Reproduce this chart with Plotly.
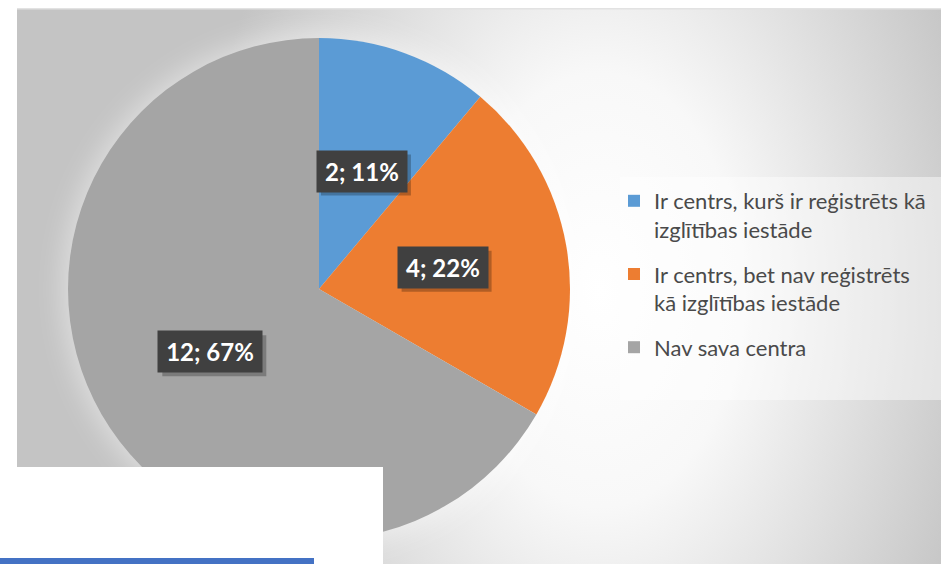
import base64
import math

import plotly.graph_objects as go

W, H = 941, 564

labels = [
    'Ir centrs, kurš ir reģistrēts kā<br>izglītības iestāde',
    'Ir centrs, bet nav reģistrēts<br>kā izglītības iestāde',
    'Nav sava centra',
]
values = [2, 4, 12]
colors = ['#5B9BD5', '#ED7D31', '#A5A5A5']


def px_x(p):
    return p / W


def px_y(p):
    return 1 - p / H


def gradient_source():
    # radial grey/white chart-area fill plus a soft glow behind the pie
    svg = (
        '<svg xmlns="http://www.w3.org/2000/svg" width="924" height="556" '
        'viewBox="0 0 924 556" preserveAspectRatio="none">'
        '<defs><radialGradient id="g" gradientUnits="userSpaceOnUse" cx="583" cy="282" r="400" '
        'gradientTransform="translate(583 282) scale(1 1.55) translate(-583 -282)">'
        '<stop offset="0" stop-color="#ffffff"/>'
        '<stop offset="0.35" stop-color="#f8f8f8"/>'
        '<stop offset="1" stop-color="#c4c4c4"/>'
        '</radialGradient>'
        '<filter id="b" x="-20%" y="-20%" width="140%" height="140%">'
        '<feGaussianBlur stdDeviation="12"/></filter></defs>'
        '<rect width="924" height="556" fill="url(#g)"/>'
        '<rect width="924" height="1.5" fill="#e2e2e2"/>'
        '<circle cx="302" cy="281" r="258" fill="#ffffff" fill-opacity="0.4" filter="url(#b)"/>'
        '</svg>'
    )
    return 'data:image/svg+xml;base64,' + base64.b64encode(svg.encode()).decode()


def create_pie_chart():
    dom_x = [px_x(68), px_x(570)]
    dom_y = [px_y(540), px_y(38)]

    fig = go.Figure()
    fig.add_trace(go.Pie(
        labels=labels, values=values,
        marker=dict(colors=colors, line=dict(width=0)),
        sort=False, direction='clockwise', rotation=0,
        textinfo='none', hoverinfo='label+value+percent',
        domain=dict(x=dom_x, y=dom_y),
        showlegend=False,
    ))

    # legend entries, one group each so the gap between them can be set
    for i, name in enumerate(labels):
        fig.add_trace(go.Scatter(
            x=[None], y=[None], mode='markers', name=name,
            marker=dict(symbol='square', size=12, color=colors[i]),
            legendgroup=str(i), hoverinfo='skip',
        ))

    # data labels at half radius along each slice's mid angle
    cx = (dom_x[0] + dom_x[1]) / 2
    cy = (dom_y[0] + dom_y[1]) / 2
    radius_px = (dom_x[1] - dom_x[0]) * W / 2
    total = sum(values)
    start = 0
    for v in values:
        mid = (start + v / 2) / total * 2 * math.pi
        start += v
        x = cx + 0.5 * radius_px * math.sin(mid) / W
        y = cy + 0.5 * radius_px * math.cos(mid) / H
        text = f'{v}; {round(100 * v / total)}%'
        w = 14 * len(text) - 2
        # drop shadow behind the label box
        fig.add_shape(
            type='rect', xref='paper', yref='paper',
            xsizemode='pixel', ysizemode='pixel', xanchor=x, yanchor=y,
            x0=-w / 2, x1=w / 2 + 8, y0=-24.5, y1=16.5,
            fillcolor='rgba(0,0,0,0.25)', line=dict(width=0), layer='above',
        )
        fig.add_annotation(
            x=x, y=y, xref='paper', yref='paper', showarrow=False,
            xanchor='center', yanchor='middle',
            text=text, width=w, height=33, borderpad=4,
            bgcolor='#404040',
            font=dict(family='Lato', size=24, color='white', weight='bold'),
        )

    fig.add_layout_image(
        source=gradient_source(), xref='paper', yref='paper',
        x=px_x(17), y=px_y(8), sizex=924 / W, sizey=556 / H,
        xanchor='left', yanchor='top', sizing='stretch', layer='below',
    )

    # legend panel, white overlapping box and blue strip
    fig.add_shape(type='rect', xref='paper', yref='paper',
                  x0=px_x(620), x1=1, y0=px_y(400), y1=px_y(177),
                  fillcolor='rgba(255,255,255,0.45)', line=dict(width=0), layer='below')
    fig.add_shape(type='rect', xref='paper', yref='paper',
                  x0=0, x1=px_x(383), y0=0, y1=px_y(467),
                  fillcolor='white', line=dict(width=0), layer='above')
    fig.add_shape(type='rect', xref='paper', yref='paper',
                  x0=0, x1=px_x(314), y0=0, y1=px_y(558),
                  fillcolor='#4472C4', line=dict(width=0), layer='above')

    fig.update_layout(
        width=W, height=H,
        paper_bgcolor='white', plot_bgcolor='rgba(0,0,0,0)',
        margin=dict(l=0, r=0, t=0, b=0),
        xaxis=dict(visible=False), yaxis=dict(visible=False),
        showlegend=True,
        legend=dict(
            x=px_x(614), y=px_y(180), xanchor='left', yanchor='top',
            bgcolor='rgba(0,0,0,0)', valign='top',
            font=dict(family='Lato', size=22, color='#4a4a4a'),
            itemwidth=30, tracegroupgap=13,
        ),
    )
    return fig


fig = create_pie_chart()
fig.write_html("out.html", config={'displayModeBar': False},
               post_script="document.body.style.margin='0';")
